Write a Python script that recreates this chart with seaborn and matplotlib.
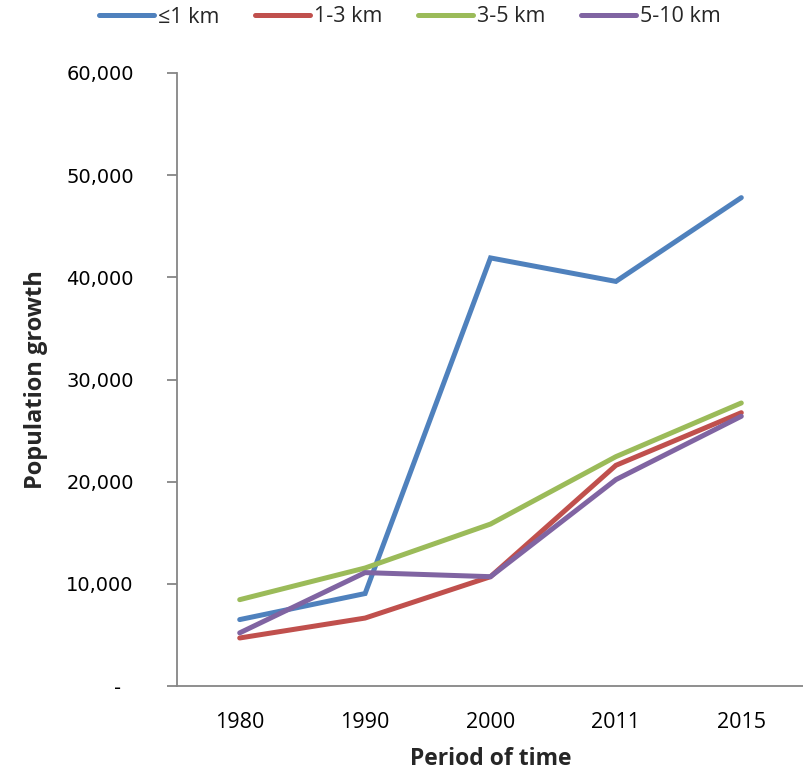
import matplotlib
matplotlib.use("Agg")
import matplotlib.pyplot as plt
import matplotlib.ticker as mticker
import pandas as pd
import seaborn as sns

# Population growth by distance band
periods = ["1980", "1990", "2000", "2011", "2015"]
band_labels = ["≤1 km", "1-3 km", "3-5 km", "5-10 km"]
growth_le1 = [6500, 9050, 41900, 39600, 47800]
growth_1_3 = [4700, 6650, 10700, 21600, 26750]
growth_3_5 = [8450, 11550, 15850, 22450, 27700]
growth_5_10 = [5200, 11100, 10700, 20200, 26400]

colors = ["#4F81BD", "#C0504D", "#9BBB59", "#8064A2"]

rows = []
for label, series in zip(band_labels, [growth_le1, growth_1_3, growth_3_5, growth_5_10]):
    for i, (p, v) in enumerate(zip(periods, series)):
        rows.append({"pos": i, "period": p, "band": label, "value": v})
df = pd.DataFrame(rows)

sns.set_theme(style="white")
plt.rcParams["font.family"] = ["Open Sans", "DejaVu Sans"]

fig = plt.figure(figsize=(8.04, 7.72), dpi=100)
ax = fig.add_axes([177 / 804, 1 - 686 / 772, 627 / 804, (686 - 73) / 772])

sns.lineplot(data=df, x="pos", y="value", hue="band", hue_order=band_labels,
             palette=colors, linewidth=3.6, ax=ax, legend=True,
             solid_capstyle="round", solid_joinstyle="miter")

ax.set_xlim(-0.5, 4.5)
ax.set_ylim(0, 60000)
ax.set_xticks(range(len(periods)))
ax.set_xticklabels(periods)
ax.set_yticks(range(0, 60001, 10000))
ax.yaxis.set_major_formatter(mticker.FuncFormatter(
    lambda v, _: "-\u2007" if v == 0 else f"{int(v):,}"))

axis_color = "#868686"
for side in ["top", "right"]:
    ax.spines[side].set_visible(False)
for side in ["left", "bottom"]:
    ax.spines[side].set_color(axis_color)
    ax.spines[side].set_linewidth(1.3)

ax.tick_params(axis="y", which="major", length=7.2, width=1.3, color=axis_color,
               direction="out", left=True, labelsize=14, labelcolor="#000000",
               pad=24, labelfontfamily="DejaVu Sans")
ax.tick_params(axis="x", which="major", length=0, labelsize=15.5,
               labelcolor="#000000", pad=19)

ax.set_xlabel("Period of time", fontsize=16.5, fontweight="bold", labelpad=10)
ax.set_ylabel("Population growth", fontsize=17, fontweight="bold", labelpad=13)

handles, labels = ax.get_legend_handles_labels()
ax.legend(handles, labels, loc="center", bbox_to_anchor=((410 - 177) / 627, 1 + 56 / 613),
          ncol=4, frameon=False, fontsize=15.5, handlelength=2.55,
          handletextpad=0.2, columnspacing=1.65)

fig.savefig("out.png", dpi=100)
